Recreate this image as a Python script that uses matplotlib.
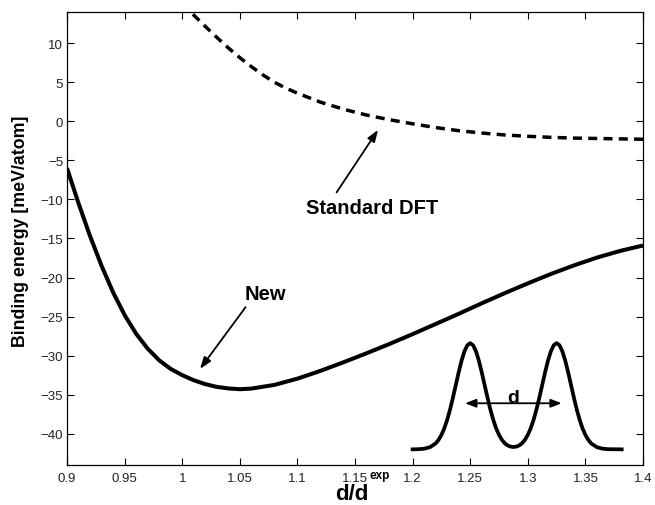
import numpy as np
import matplotlib.pyplot as plt

plt.rcParams['font.family'] = ['Liberation Sans', 'DejaVu Sans']

# curva "New"
x_new = [0.90, 0.91, 0.92, 0.93, 0.94, 0.95, 0.96, 0.97, 0.98, 0.99, 1.00,
         1.01, 1.02, 1.03, 1.04, 1.05, 1.06, 1.08, 1.10, 1.12, 1.14, 1.16, 1.18, 1.20,
         1.22, 1.24, 1.26, 1.28, 1.30, 1.32, 1.34, 1.36, 1.38, 1.40]
y_new = [-6.0, -10.5, -14.7, -18.5, -21.9, -24.8, -27.2, -29.1, -30.6, -31.7, -32.5,
         -33.15, -33.65, -34.0, -34.2, -34.3, -34.22, -33.75, -32.95, -31.95, -30.85, -29.7,
         -28.5, -27.25, -25.95, -24.65, -23.3, -22.0, -20.75, -19.55, -18.45, -17.45,
         -16.6, -15.9]

# curva "Standard DFT"
x_dft = [1.00, 1.01, 1.02, 1.03, 1.04, 1.05, 1.06, 1.07, 1.08, 1.09, 1.10,
         1.12, 1.14, 1.16, 1.18, 1.20, 1.22, 1.24, 1.26, 1.28, 1.30, 1.32,
         1.34, 1.36, 1.38, 1.40]
y_dft = [15.1, 13.6, 12.15, 10.75, 9.4, 8.15, 7.0, 5.95, 5.0, 4.25, 3.6,
         2.45, 1.55, 0.8, 0.2, -0.32, -0.8, -1.2, -1.5, -1.75, -1.92, -2.05,
         -2.15, -2.2, -2.25, -2.3]

# esquema de las dos densidades (inset)
x_esq = [1.200, 1.205, 1.210, 1.215, 1.220, 1.2225, 1.225, 1.2275, 1.230, 1.2325,
         1.235, 1.2375, 1.240, 1.2425, 1.245, 1.2475, 1.250, 1.2525, 1.255, 1.2575,
         1.260, 1.2625, 1.265, 1.2675, 1.270, 1.2725, 1.275, 1.2775, 1.280, 1.2825,
         1.285, 1.2875, 1.290, 1.2925, 1.295, 1.2975, 1.300, 1.3025, 1.305, 1.3075,
         1.310, 1.3125, 1.315, 1.3175, 1.320, 1.3225, 1.325, 1.3275, 1.330, 1.3325,
         1.335, 1.3375, 1.340, 1.3425, 1.345, 1.3475, 1.350, 1.3525, 1.355, 1.360,
         1.365, 1.370, 1.3815]
y_esq = [-42.0, -41.98, -41.92, -41.73, -41.24, -40.79, -40.16, -39.31, -38.22, -36.90,
         -35.38, -33.75, -32.13, -30.64, -29.45, -28.67, -28.40, -28.67, -29.45, -30.64,
         -32.13, -33.75, -35.38, -36.90, -38.22, -39.31, -40.15, -40.78, -41.22, -41.50,
         -41.65, -41.70, -41.65, -41.50, -41.22, -40.78, -40.15, -39.31, -38.22, -36.90,
         -35.38, -33.75, -32.13, -30.64, -29.45, -28.67, -28.40, -28.67, -29.45, -30.64,
         -32.13, -33.75, -35.38, -36.90, -38.22, -39.31, -40.16, -40.79, -41.24, -41.73,
         -41.92, -41.98, -42.0]

x_ticks = [0.9, 0.95, 1.0, 1.05, 1.1, 1.15, 1.2, 1.25, 1.3, 1.35, 1.4]
x_tick_labels = ['0.9', '0.95', '1', '1.05', '1.1', '1.15', '1.2', '1.25', '1.3', '1.35', '1.4']
y_ticks = [-40, -35, -30, -25, -20, -15, -10, -5, 0, 5, 10]

fig = plt.figure(figsize=(6.55, 5.06), dpi=100)
ax = fig.add_axes([0.1023, 0.0791, 0.8794, 0.8953])

ax.plot(x_new, y_new, color='k', lw=2.9, solid_capstyle='butt', solid_joinstyle='round')
ax.plot(x_dft, y_dft, color='k', lw=2.5, dashes=(2.6, 1.8))
ax.plot(x_esq, y_esq, color='k', lw=2.7, solid_joinstyle='round')

flecha = dict(arrowstyle='-|>,head_length=0.7,head_width=0.25', color='k', lw=1.3,
              shrinkA=0, shrinkB=0, mutation_scale=10)
ax.annotate('', xy=(1.0155, -31.7), xytext=(1.055, -23.8), arrowprops=flecha)
ax.text(1.072, -22.1, 'New', ha='center', va='center', fontsize=14.5, fontweight='bold')
ax.annotate('', xy=(1.170, -1.1), xytext=(1.134, -9.1), arrowprops=flecha)
ax.text(1.165, -11.05, 'Standard DFT', ha='center', va='center', fontsize=14.5, fontweight='bold')

doble = dict(arrowstyle='<|-|>,head_length=0.65,head_width=0.25', color='k', lw=1.3,
             shrinkA=0, shrinkB=0, mutation_scale=10)
ax.annotate('', xy=(1.2455, -36.1), xytext=(1.3295, -36.1), arrowprops=doble)
ax.text(1.2875, -35.9, 'd', ha='center', va='baseline', fontsize=14, fontweight='bold')

ax.set_xlim(0.9, 1.4)
ax.set_ylim(-44, 14)
ax.set_xticks(x_ticks)
ax.set_xticklabels(x_tick_labels)
ax.set_yticks(y_ticks)
ax.tick_params(direction='in', top=True, right=True, length=5, width=0.8,
               labelsize=9.5, labelcolor='#222222')
ax.tick_params(axis='x', pad=5)
ax.tick_params(axis='y', pad=2.7)
for s in ax.spines.values():
    s.set_linewidth(0.9)

ax.set_ylabel('Binding energy [meV/atom]', fontsize=12.8, fontweight='bold', va='center')
ax.yaxis.set_label_coords(-0.0807, 0.518)

# etiqueta x: "d/d" con superindice "exp"
ax.set_xlabel('d/d', fontsize=16, fontweight='bold', ha='right', va='baseline')
ax.xaxis.set_label_coords(0.5226, -0.0751)
ax.text(0.5243, -0.0287, 'exp', transform=ax.transAxes, ha='left', va='baseline',
        fontsize=8.5, fontweight='bold')

fig.savefig('out.png', dpi=100)
